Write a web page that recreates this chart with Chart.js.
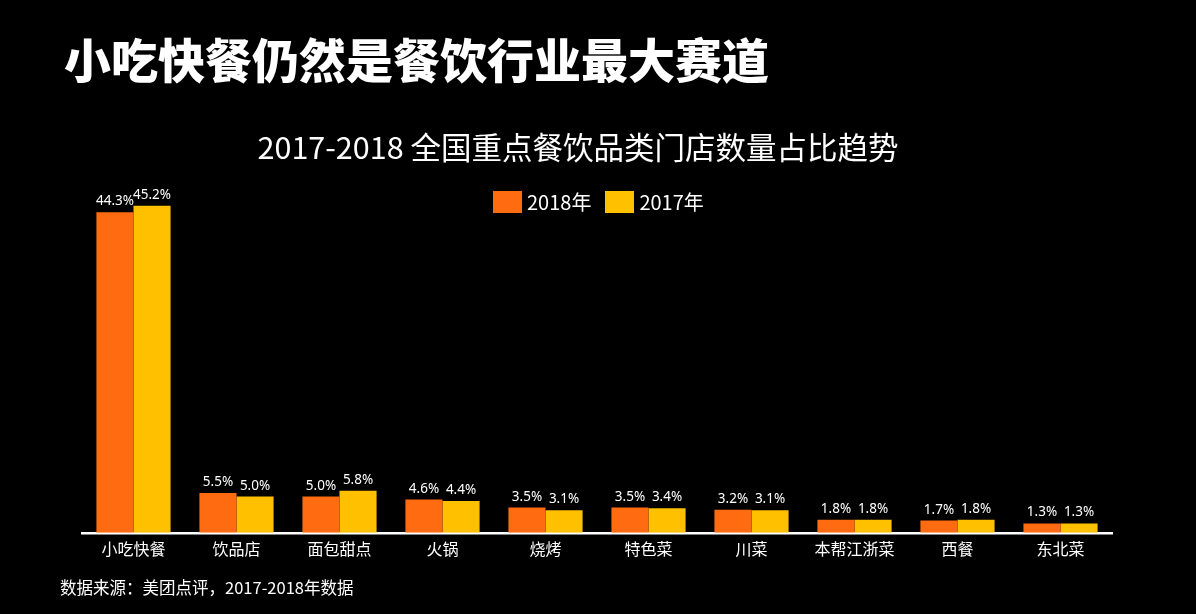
<!DOCTYPE html>
<html>
<head>
<meta charset="utf-8">
<script src="https://cdn.jsdelivr.net/npm/chart.js@4.4.1/dist/chart.umd.min.js"></script>
<style>
  html, body { margin: 0; padding: 0; background: #000; }
  body { width: 1196px; height: 614px; position: relative; overflow: hidden;
         font-family: "Noto Sans CJK SC", "Noto Sans", sans-serif; color: #fff; }
  #title { position: absolute; left: 64px; top: 34px; font-size: 47px; font-weight: 900; line-height: 1; }
  #subtitle { position: absolute; left: 0; width: 1156px; top: 131px; text-align: center;
              font-size: 30.5px; line-height: 1; }
  #source { position: absolute; left: 60px; top: 579px; font-size: 16.5px; line-height: 1; }
  #chartBox { position: absolute; left: 0; top: 0; width: 1196px; height: 614px; }
  #legend { position: absolute; left: 493px; top: 191px; display: flex; align-items: center;
            font-size: 20px; line-height: 22px; }
  #legend .item { display: flex; align-items: center; margin-right: 14px; }
  #legend .box { width: 29px; height: 22px; margin-right: 5px; }
</style>
</head>
<body>
<div id="chartBox"><canvas id="shareChart"></canvas></div>
<div id="title">小吃快餐仍然是餐饮行业最大赛道</div>
<div id="subtitle">2017-2018 全国重点餐饮品类门店数量占比趋势</div>
<div id="legend"></div>
<div id="source">数据来源：美团点评，2017-2018年数据</div>
<script>
// Category share data, 2018 vs 2017 (%)
const categories = ['小吃快餐', '饮品店', '面包甜点', '火锅', '烧烤', '特色菜', '川菜', '本帮江浙菜', '西餐', '东北菜'];
const share2018 = [44.3, 5.5, 5.0, 4.6, 3.5, 3.5, 3.2, 1.8, 1.7, 1.3];
const share2017 = [45.2, 5.0, 5.8, 4.4, 3.1, 3.4, 3.1, 1.8, 1.8, 1.3];

// Draw the percentage above each bar
const valueLabels = {
    id: 'valueLabels',
    afterDatasetsDraw(chart) {
        const ctx = chart.ctx;
        ctx.save();
        ctx.font = '13.5px "Noto Sans", "DejaVu Sans", sans-serif';
        ctx.fillStyle = '#fff';
        ctx.textAlign = 'center';
        ctx.textBaseline = 'bottom';
        chart.data.datasets.forEach((ds, i) => {
            chart.getDatasetMeta(i).data.forEach((bar, j) => {
                ctx.fillText(ds.data[j].toFixed(1) + '%', bar.x, bar.y - 4);
            });
        });
        ctx.restore();
    }
};

// Legend built from the chart's datasets
function buildLegend(chart) {
    const box = document.getElementById('legend');
    box.innerHTML = '';
    chart.data.datasets.forEach(ds => {
        const item = document.createElement('div');
        item.className = 'item';
        item.innerHTML = `<span class="box" style="background:${ds.backgroundColor}"></span><span>${ds.label}</span>`;
        box.appendChild(item);
    });
}

function createChart() {
    const ctx = document.getElementById('shareChart').getContext('2d');
    const chart = new Chart(ctx, {
        type: 'bar',
        data: {
            labels: categories,
            datasets: [
                {
                    label: '2018年',
                    data: share2018,
                    backgroundColor: '#FF6B10',
                    categoryPercentage: 0.72,
                    barPercentage: 1.0
                },
                {
                    label: '2017年',
                    data: share2017,
                    backgroundColor: '#FFC000',
                    categoryPercentage: 0.72,
                    barPercentage: 1.0
                }
            ]
        },
        options: {
            responsive: true,
            maintainAspectRatio: false,
            animation: false,
            layout: { padding: { left: 82, right: 84, top: 171, bottom: 48 } },
            plugins: {
                tooltip: { enabled: false },
                legend: { display: false }
            },
            scales: {
                x: {
                    grid: { display: false, drawTicks: false },
                    border: { display: true, color: '#fff', width: 2.5 },
                    ticks: {
                        color: '#fff',
                        padding: 7,
                        font: { size: 16, family: '"Noto Sans CJK SC", sans-serif' }
                    }
                },
                y: {
                    display: false,
                    min: 0,
                    max: 50
                }
            }
        },
        plugins: [valueLabels]
    });
    buildLegend(chart);
}

window.onload = createChart;
</script>
</body>
</html>
